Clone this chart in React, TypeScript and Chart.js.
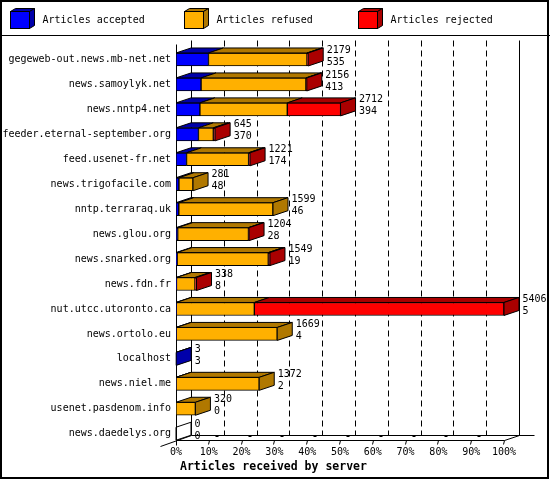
import { useEffect, useRef } from "react"
import { Chart, registerables } from "chart.js"

Chart.register(...registerables)

const servers = [
  "gegeweb-out.news.mb-net.net",
  "news.samoylyk.net",
  "news.nntp4.net",
  "feeder.eternal-september.org",
  "feed.usenet-fr.net",
  "news.trigofacile.com",
  "nntp.terraraq.uk",
  "news.glou.org",
  "news.snarked.org",
  "news.fdn.fr",
  "nut.utcc.utoronto.ca",
  "news.ortolo.eu",
  "localhost",
  "news.niel.me",
  "usenet.pasdenom.info",
  "news.daedelys.org",
]
const accepted = [535, 413, 394, 370, 174, 48, 46, 28, 19, 8, 5, 4, 3, 2, 0, 0]
const refused = [1624, 1728, 1440, 245, 1022, 233, 1553, 1166, 1502, 305, 1286, 1665, 0, 1370, 320, 0]
const rejected = [20, 15, 878, 30, 25, 0, 0, 10, 28, 25, 4115, 0, 0, 0, 0, 0]
const xTickLabels = ["0%", "10%", "20%", "30%", "40%", "50%", "60%", "70%", "80%", "90%", "100%"]
const seriesNames = ["Articles accepted", "Articles refused", "Articles rejected"]
const xTitle = "Articles received by server"

const faceColors = ["#0000FF", "#FFB000", "#FF0000"]
const shadeColors = ["#0000AA", "#B07800", "#AA0000"]
const FONT = '"DejaVu Sans Mono", monospace'
const DX = 15
const DY = 5
const BAR = 13

const series = [accepted, refused, rejected]
const totals = servers.map((_, i) => accepted[i] + refused[i] + rejected[i])
const maxTotal = Math.max(...totals)

function poly(ctx: CanvasRenderingContext2D, pts: number[][], fill?: string) {
  ctx.beginPath()
  pts.forEach(([x, y], i) => (i === 0 ? ctx.moveTo(x, y) : ctx.lineTo(x, y)))
  ctx.closePath()
  if (fill) {
    ctx.fillStyle = fill
    ctx.fill()
  }
  ctx.stroke()
}

function line(ctx: CanvasRenderingContext2D, x1: number, y1: number, x2: number, y2: number) {
  ctx.beginPath()
  ctx.moveTo(x1, y1)
  ctx.lineTo(x2, y2)
  ctx.stroke()
}

const frame3d = {
  id: "frame3d",
  beforeDraw(chart: Chart) {
    const { ctx, width, height, chartArea } = chart
    const xs = chart.scales.x
    const ys = chart.scales.y
    ctx.save()
    ctx.fillStyle = "#fff"
    ctx.fillRect(0, 0, width, height)
    ctx.strokeStyle = "#000"
    ctx.lineWidth = 1

    // legend with 3d boxes
    seriesNames.forEach((name, i) => {
      const bx = 10.5 + i * 174
      const by = 11.5
      const bw = 19
      const bh = 17
      poly(ctx, [[bx, by], [bx + 5, by - 3], [bx + bw + 5, by - 3], [bx + bw, by]], shadeColors[i])
      poly(ctx, [[bx + bw, by], [bx + bw + 5, by - 3], [bx + bw + 5, by + bh - 3], [bx + bw, by + bh]], shadeColors[i])
      ctx.fillStyle = faceColors[i]
      ctx.fillRect(bx, by, bw, bh)
      ctx.strokeRect(bx, by, bw, bh)
      ctx.fillStyle = "#000"
      ctx.font = `10px ${FONT}`
      ctx.textBaseline = "middle"
      ctx.fillText(name, bx + 32, 20)
    })
    line(ctx, 0, 35.5, width, 35.5)
    ctx.lineWidth = 2
    ctx.strokeRect(1, 1, 547, 477)
    ctx.lineWidth = 1

    const x0 = Math.round(xs.getPixelForValue(0)) + 0.5
    const x1 = Math.round(xs.getPixelForValue(maxTotal)) + 0.5
    const floorY = Math.round(ys.getPixelForValue(servers.length - 1) + BAR / 2) + 0.5
    const backY = floorY - DY
    const wallTop = Math.round(chartArea.top) - 6.5

    // dashed grid on the back wall
    ctx.setLineDash([6, 4])
    xTickLabels.forEach((_, i) => {
      if (i === 0 || i === xTickLabels.length - 1) return
      const gx = Math.round(xs.getPixelForValue((maxTotal * i) / 10) + DX) + 0.5
      line(ctx, gx, wallTop, gx, backY)
    })
    ctx.setLineDash([])

    // walls and floor
    line(ctx, x0 + DX, wallTop, x0 + DX, backY)
    line(ctx, x1 + DX, wallTop, x1 + DX, backY)
    line(ctx, x0, wallTop + 4, x0, floorY + 5)
    line(ctx, x0, floorY, x1, floorY)
    line(ctx, x0 + DX, backY, x1 + DX + 15, backY)
    line(ctx, x0 - 16, floorY + 6, x0 + DX, backY)
    line(ctx, x1, floorY, x1 + DX, backY)

    // floor ticks
    ctx.fillStyle = "#000"
    xTickLabels.forEach((_, i) => {
      if (i === 0) return
      const tx = Math.round(xs.getPixelForValue((maxTotal * i) / 10)) + 0.5
      line(ctx, tx, floorY, tx - 1, floorY + 4)
      if (i < xTickLabels.length - 1) ctx.fillRect(tx + 6, floorY - 5.5, 3, 2)
    })
    ctx.restore()
  },
  afterDatasetsDraw(chart: Chart) {
    const { ctx } = chart
    const x0 = chart.scales.x.getPixelForValue(0)
    ctx.save()
    ctx.strokeStyle = "#000"
    ctx.lineWidth = 1
    servers.forEach((_, i) => {
      let last = -1
      let end = x0
      let cy = 0
      series.forEach((values, d) => {
        const el = chart.getDatasetMeta(d).data[i] as any
        const { x, base, y } = el.getProps(["x", "base", "y"], true)
        cy = y
        if (values[i] <= 0) return
        const top = y - BAR / 2
        const l = Math.min(x, base)
        const r = Math.max(x, base)
        poly(ctx, [[l, top], [r, top], [r + DX, top - DY], [l + DX, top - DY]], shadeColors[d])
        last = d
        end = r
      })
      const top = cy - BAR / 2
      const bottom = cy + BAR / 2
      if (last === -1) {
        poly(ctx, [[end, top], [end + DX, top - DY], [end + DX, bottom - DY], [end, bottom]])
      } else {
        poly(ctx, [[end, top], [end + DX, top - DY], [end + DX, bottom - DY], [end, bottom]], shadeColors[last])
      }
      ctx.fillStyle = "#000"
      ctx.font = `10px ${FONT}`
      ctx.textBaseline = "middle"
      ctx.textAlign = "left"
      ctx.fillText(String(totals[i]), end + DX + 3.5, cy - 9.5)
      ctx.fillText(String(accepted[i]), end + DX + 3.5, cy + 2.5)
    })
    ctx.restore()
  },
  afterDraw(chart: Chart) {
    const { ctx } = chart
    ctx.save()
    ctx.fillStyle = "#000"
    ctx.font = `bold 11.5px ${FONT}`
    ctx.textBaseline = "middle"
    ctx.fillText(xTitle, 180, 467)
    ctx.restore()
  },
}

export default function App() {
  const chartRef = useRef<HTMLCanvasElement>(null)

  useEffect(() => {
    document.body.style.margin = "0"
    if (!chartRef.current) return

    const chart = new Chart(chartRef.current, {
      type: "bar",
      data: {
        labels: servers,
        datasets: series.map((values, d) => ({
          label: seriesNames[d],
          data: values,
          backgroundColor: faceColors[d],
          borderColor: "#000",
          borderWidth: 1,
          borderSkipped: false,
          barThickness: BAR,
        })),
      },
      options: {
        indexAxis: "y",
        responsive: false,
        animation: false,
        events: [],
        layout: { padding: { top: 47, right: 46, left: 0, bottom: 0 } },
        plugins: {
          legend: { display: false },
          tooltip: { enabled: false },
        },
        scales: {
          x: {
            type: "linear",
            stacked: true,
            min: 0,
            max: maxTotal,
            grid: { display: false, drawTicks: false },
            border: { display: false },
            afterBuildTicks: (scale) => {
              scale.ticks = xTickLabels.map((_, i) => ({ value: (maxTotal * i) / 10 }))
            },
            afterFit: (scale) => {
              scale.height = 33.8
            },
            ticks: {
              padding: 0,
              color: "#000",
              font: { family: FONT, size: 10 },
              maxRotation: 0,
              autoSkip: false,
              callback: (_v, i) => xTickLabels[i],
            },
          },
          y: {
            stacked: true,
            offset: true,
            grid: { display: false, drawTicks: false },
            border: { display: false },
            afterFit: (scale) => {
              scale.width = 176
            },
            ticks: {
              padding: 5,
              color: "#000",
              autoSkip: false,
              font: { family: FONT, size: 10 },
            },
          },
        },
      },
      plugins: [frame3d],
    })

    return () => {
      chart.destroy()
    }
  }, [])

  return <canvas ref={chartRef} width={550} height={480} style={{ display: "block", width: 550, height: 480 }} />
}
